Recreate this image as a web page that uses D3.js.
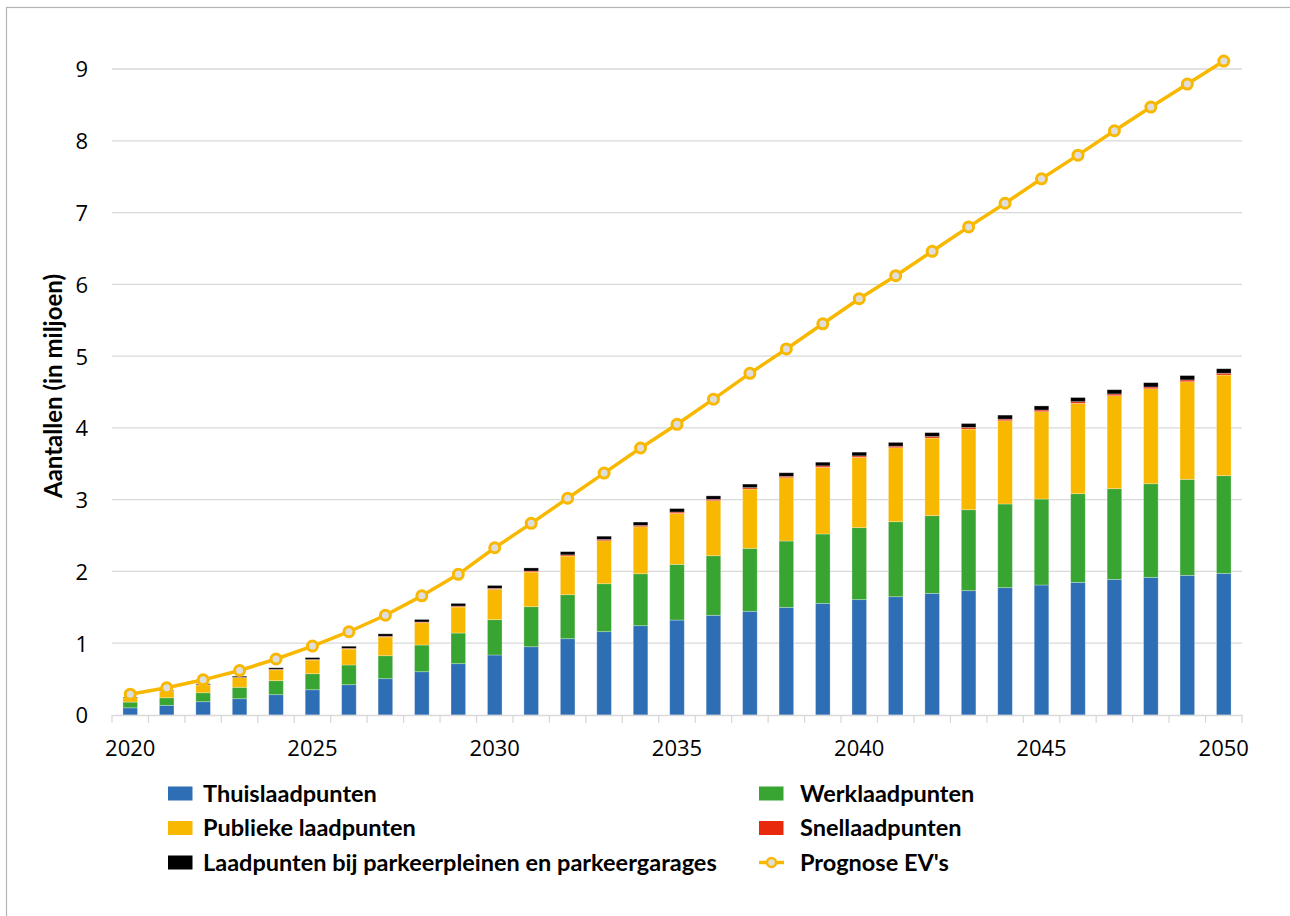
<!DOCTYPE html>
<html>
<head>
<meta charset="utf-8">
<script src="https://cdn.jsdelivr.net/npm/d3@7"></script>
<style>
  html, body { margin: 0; padding: 0; background: #fff; }
  svg { display: block; }
  text { font-family: "Open Sans", "Noto Sans", sans-serif; fill: #000; }
  .legend text, .ytitle { font-family: Lato, "Open Sans", sans-serif; font-weight: 700; }
</style>
</head>
<body>
<svg id="chart" width="1290" height="916"></svg>
<script>
// Years on the category axis
const years = d3.range(2020, 2051);

// Charging points per type (millions)
const thuis = [0.100, 0.135, 0.185, 0.227, 0.283, 0.352, 0.422, 0.506, 0.603, 0.715,
               0.836, 0.951, 1.063, 1.161, 1.244, 1.323, 1.389, 1.445, 1.500, 1.556,
               1.607, 1.648, 1.695, 1.732, 1.774, 1.811, 1.848, 1.890, 1.918, 1.946, 1.974];
const werk = [0.080, 0.105, 0.125, 0.159, 0.195, 0.223, 0.275, 0.320, 0.372, 0.427,
              0.492, 0.558, 0.613, 0.668, 0.724, 0.776, 0.830, 0.877, 0.924, 0.966,
              1.003, 1.045, 1.082, 1.128, 1.166, 1.198, 1.235, 1.263, 1.304, 1.337, 1.360];
const publiek = [0.060, 0.090, 0.110, 0.134, 0.152, 0.191, 0.223, 0.261, 0.311, 0.363,
                 0.423, 0.483, 0.539, 0.599, 0.655, 0.711, 0.767, 0.827, 0.882, 0.929,
                 0.980, 1.031, 1.082, 1.124, 1.160, 1.217, 1.259, 1.296, 1.324, 1.360, 1.403];
const snel = [0.002, 0.003, 0.004, 0.005, 0.006, 0.007, 0.008, 0.010, 0.010, 0.012,
              0.013, 0.014, 0.016, 0.017, 0.018, 0.018, 0.019, 0.019, 0.019, 0.020,
              0.020, 0.021, 0.021, 0.022, 0.022, 0.023, 0.023, 0.024, 0.024, 0.025, 0.025];
const parkeer = [0.008, 0.009, 0.011, 0.016, 0.022, 0.027, 0.030, 0.034, 0.035, 0.038,
                 0.041, 0.043, 0.045, 0.046, 0.047, 0.048, 0.048, 0.049, 0.050, 0.051,
                 0.052, 0.053, 0.054, 0.055, 0.056, 0.057, 0.058, 0.059, 0.060, 0.061, 0.062];

// Forecast number of electric vehicles (millions)
const prognoseEV = [0.29, 0.38, 0.49, 0.62, 0.78, 0.96, 1.16, 1.39, 1.66, 1.96,
                    2.33, 2.67, 3.02, 3.37, 3.72, 4.05, 4.40, 4.76, 5.10, 5.45,
                    5.80, 6.12, 6.46, 6.80, 7.13, 7.47, 7.80, 8.14, 8.47, 8.79, 9.11];

const yTicks = [0, 1, 2, 3, 4, 5, 6, 7, 8, 9];
const xLabelYears = [2020, 2025, 2030, 2035, 2040, 2045, 2050];

const seriesKeys = ["thuis", "werk", "publiek", "snel", "parkeer"];
const seriesNames = {
  thuis: "Thuislaadpunten",
  werk: "Werklaadpunten",
  publiek: "Publieke laadpunten",
  snel: "Snellaadpunten",
  parkeer: "Laadpunten bij parkeerpleinen en parkeergarages"
};
const colors = {
  thuis: "#2e6eb5",
  werk: "#38a532",
  publiek: "#f9b800",
  snel: "#e8290b",
  parkeer: "#000000"
};
const lineColor = "#f9b800";

const table = years.map((yr, i) => ({
  year: yr, thuis: thuis[i], werk: werk[i], publiek: publiek[i], snel: snel[i], parkeer: parkeer[i]
}));

const svg = d3.select("#chart");

// outer frame
svg.append("rect")
  .attr("x", 6.5).attr("y", 7.5).attr("width", 1400).attr("height", 1000)
  .attr("fill", "none").attr("stroke", "#b4b4b4").attr("stroke-width", 1.2);

const x = d3.scaleBand().domain(years).range([112, 1242]).paddingInner(0.6).paddingOuter(0.3);
const y = d3.scaleLinear().domain([0, 9]).range([715, 69]);

// horizontal gridlines
svg.append("g").selectAll("line")
  .data(yTicks.filter(d => d > 0))
  .join("line")
  .attr("x1", 112).attr("x2", 1242)
  .attr("y1", d => y(d)).attr("y2", d => y(d))
  .attr("stroke", "#d9d9d9").attr("stroke-width", 1.3);

// y axis labels
const yAxis = svg.append("g")
  .attr("transform", "translate(112,0)")
  .call(d3.axisLeft(y).tickValues(yTicks).tickFormat(d3.format("d")).tickSize(0).tickPadding(24));
yAxis.select(".domain").remove();
yAxis.selectAll("text").style("font-size", "22px").attr("dy", "0.36em");

// stacked bars
const stacked = d3.stack().keys(seriesKeys)(table);
svg.append("g").selectAll("g")
  .data(stacked)
  .join("g")
  .attr("fill", d => colors[d.key])
  .selectAll("rect")
  .data(d => d)
  .join("rect")
  .attr("x", d => x(d.data.year))
  .attr("width", x.bandwidth())
  .attr("y", d => y(d[1]))
  .attr("height", d => y(d[0]) - y(d[1]))
  .attr("stroke", "#ffffff").attr("stroke-opacity", 0.35).attr("stroke-width", 0.8);

// x axis
const xAxisG = svg.append("g").attr("transform", "translate(0,715)");
xAxisG.call(d3.axisBottom(x).tickValues(xLabelYears).tickSize(0).tickPadding(0));
xAxisG.select(".domain").attr("stroke", "#d9d9d9").attr("stroke-width", 1.3);
xAxisG.selectAll("text").style("font-size", "22px").attr("dy", null).attr("y", 41);
// tick marks on the category boundaries
const half = (x.step() - x.bandwidth()) / 2;
const boundaries = years.map(yr => x(yr) - half).concat([x(years[years.length - 1]) + x.bandwidth() + half]);
xAxisG.append("g").selectAll("line")
  .data(boundaries)
  .join("line")
  .attr("x1", d => d).attr("x2", d => d)
  .attr("y1", 0).attr("y2", 8)
  .attr("stroke", "#d9d9d9").attr("stroke-width", 1.3);

// forecast line
const line = d3.line().x((d, i) => x(years[i]) + x.bandwidth() / 2).y(d => y(d));
svg.append("path")
  .datum(prognoseEV)
  .attr("d", line)
  .attr("fill", "none").attr("stroke", lineColor).attr("stroke-width", 3.5)
  .attr("stroke-linejoin", "round");
svg.append("g").selectAll("circle")
  .data(prognoseEV)
  .join("circle")
  .attr("cx", (d, i) => x(years[i]) + x.bandwidth() / 2)
  .attr("cy", d => y(d))
  .attr("r", 5)
  .attr("fill", "#dedede").attr("stroke", lineColor).attr("stroke-width", 3);

// y axis title
svg.append("text")
  .attr("class", "ytitle")
  .attr("transform", "translate(62,386) rotate(-90)")
  .attr("text-anchor", "middle")
  .style("font-size", "24px")
  .text("Aantallen (in miljoen)");

// legend
const legendItems = [
  { key: "thuis", col: 0, row: 0 },
  { key: "werk", col: 1, row: 0 },
  { key: "publiek", col: 0, row: 1 },
  { key: "snel", col: 1, row: 1 },
  { key: "parkeer", col: 0, row: 2 },
  { key: "line", col: 1, row: 2 }
];
const colX = [168, 759];
const textOffset = [35, 41];
const rowY = [793.5, 828, 862.5];
const legend = svg.append("g").attr("class", "legend");
legendItems.forEach(it => {
  const g = legend.append("g").attr("transform", `translate(${colX[it.col]},${rowY[it.row]})`);
  if (it.key === "line") {
    g.append("line").attr("x1", 0).attr("x2", 25).attr("y1", 0).attr("y2", 0)
      .attr("stroke", lineColor).attr("stroke-width", 3.5);
    g.append("circle").attr("cx", 12.5).attr("cy", 0).attr("r", 4.5)
      .attr("fill", "#dedede").attr("stroke", lineColor).attr("stroke-width", 2.5);
  } else {
    g.append("rect").attr("x", 0).attr("y", -7).attr("width", 24.5).attr("height", 14)
      .attr("fill", colors[it.key]);
  }
  g.append("text")
    .attr("x", textOffset[it.col]).attr("y", 0).attr("dy", "0.35em")
    .style("font-size", "23.5px")
    .text(it.key === "line" ? "Prognose EV's" : seriesNames[it.key]);
});
</script>
</body>
</html>
